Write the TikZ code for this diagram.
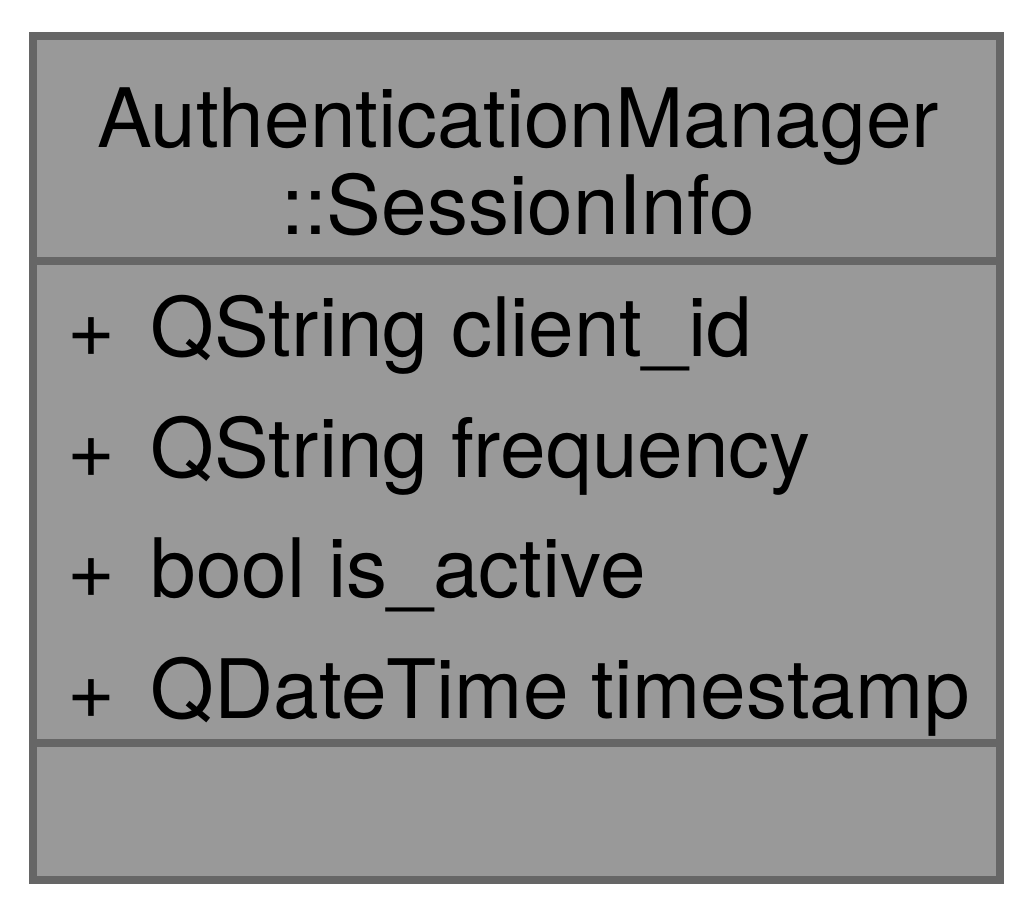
\documentclass[tikz,border=0pt]{standalone}
\usepackage{fontspec}
\setmainfont{TeX Gyre Heros}
\usepackage{tikz}
\usetikzlibrary{positioning,calc}
\usepackage{xcolor}
\definecolor{classfill}{HTML}{999999}
\definecolor{classline}{HTML}{666666}

\begin{document}
\begin{tikzpicture}[
    x=0.25pt, y=-0.25pt,
    classbox/.style={draw=classline, fill=classfill, line width=2pt},
    divider/.style={draw=classline, line width=2pt},
    title/.style={anchor=base, inner sep=0pt, font=\fontsize{20.5pt}{22pt}\selectfont},
    member/.style={anchor=base west, inner sep=0pt, font=\fontsize{20.5pt}{22pt}\selectfont}
]
    \useasboundingbox (0,0) rectangle (1033,917);

    % Class box
    \draw[classbox] (33,36) rectangle (1000,880);
    \coordinate (d1l) at (33,261);
    \coordinate (d1r) at (1000,261);
    \coordinate (d2l) at (33,743);
    \coordinate (d2r) at (1000,743);
    \draw[divider] (d1l) -- (d1r);
    \draw[divider] (d2l) -- (d2r);

    % Name
    \node[title] (name1) at (518,148) {AuthenticationManager};
    \node[title] (name2) at (518,235) {::SessionInfo};

    % Attributes
    \node[member] (v1) at (67,357) {+};
    \node[member] (a1) at (150,357) {QString client\_id};
    \node[member] (v2) at (67,478) {+};
    \node[member] (a2) at (150,478) {QString frequency};
    \node[member] (v3) at (67,598) {+};
    \node[member] (a3) at (150,598) {bool is\_active};
    \node[member] (v4) at (67,719) {+};
    \node[member] (a4) at (150,719) {QDateTime timestamp};
\end{tikzpicture}
\end{document}
